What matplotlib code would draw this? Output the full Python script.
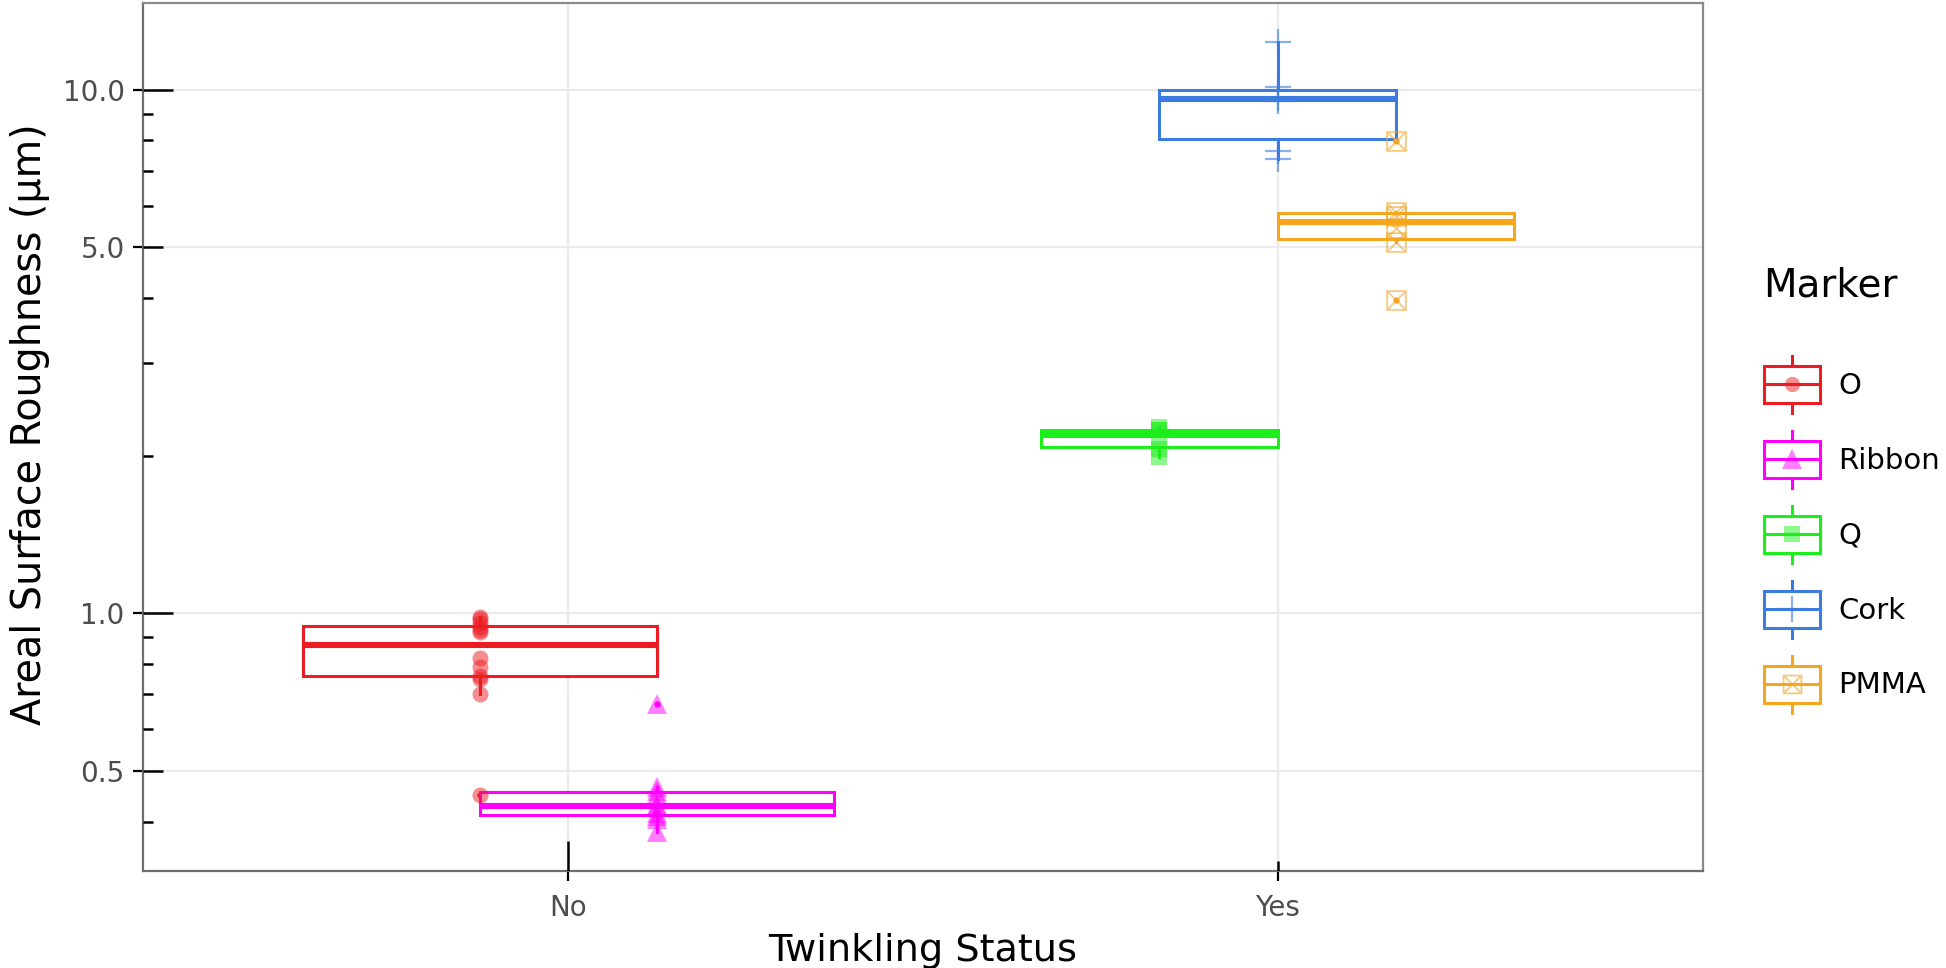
import numpy as np
import matplotlib
matplotlib.use("Agg")
import matplotlib.pyplot as plt
from matplotlib import cbook
from matplotlib.lines import Line2D
from matplotlib.patches import Rectangle
from matplotlib.path import Path
from matplotlib.legend_handler import HandlerBase
from matplotlib.ticker import NullLocator
import matplotlib.transforms as mtransforms

plt.rcParams['font.family'] = ['DejaVu Sans']

# ---------------- data ----------------
categories = ["No", "Yes"]
marker_names = ["O", "Ribbon", "Q", "Cork", "PMMA"]
marker_status = ["No", "No", "Yes", "Yes", "Yes"]

o_vals = [0.985, 0.975, 0.96, 0.94, 0.93, 0.92, 0.82, 0.79, 0.76, 0.75, 0.70, 0.45]
ribbon_vals = [0.67, 0.465, 0.458, 0.45, 0.43, 0.428, 0.415, 0.41, 0.405, 0.383]
q_vals = [2.27, 2.243, 2.24, 2.14, 2.06, 1.99]
cork_vals = [12.3, 10.1, 9.65, 9.5, 7.63, 7.36]
pmma_vals = [7.98, 5.83, 5.74, 5.45, 5.11, 3.96]

y_ticks = [0.5, 1.0, 5.0, 10.0]
y_tick_labels = ["0.5", "1.0", "5.0", "10.0"]

# ---------------- styles ----------------
colors = ["#EC1C24", "#FF00FF", "#1CEE1C", "#3A7CE0", "#F5A51E"]
sq_x = Path([(-1, -1), (1, -1), (1, 1), (-1, 1), (-1, -1),
             (-1, -1), (1, 1), (-1, 1), (1, -1)],
            [Path.MOVETO, Path.LINETO, Path.LINETO, Path.LINETO, Path.CLOSEPOLY,
             Path.MOVETO, Path.LINETO, Path.MOVETO, Path.LINETO])
point_styles = [
    dict(marker='o', ms=11.5, mew=0, filled=True, alpha=0.5),
    dict(marker='^', ms=15, mew=0, filled=True, alpha=0.5),
    dict(marker='s', ms=11.5, mew=0, filled=True, alpha=0.5),
    dict(marker='+', ms=19, mew=1.6, filled=False, alpha=0.6),
    dict(marker=sq_x, ms=13.5, mew=1.3, filled=False, alpha=0.6),
]
all_vals = [o_vals, ribbon_vals, q_vals, cork_vals, pmma_vals]

BOX_LW = 2.2
MED_LW = 4.4

fig = plt.figure(figsize=(19.46, 9.68), dpi=100)
ax_l, ax_b, ax_w, ax_h = 143 / 1946, 97 / 968, 1560 / 1946, 868 / 968
ax = fig.add_axes([ax_l, ax_b, ax_w, ax_h])
ax.set_yscale('log')

proxies = []
for ci, cat in enumerate(categories):
    idx = [i for i, s in enumerate(marker_status) if s == cat]
    n = len(idx)
    for j, i in enumerate(idx):
        pos = ci + 1 + (j - (n - 1) / 2) * 0.5 / n
        width = 1.0 / n
        vals = np.asarray(all_vals[i], dtype=float)
        st = cbook.boxplot_stats(np.log10(vals), whis=1.5)[0]
        for k in ['med', 'q1', 'q3', 'whislo', 'whishi', 'mean']:
            st[k] = 10 ** st[k]
        st['fliers'] = 10 ** np.asarray(st['fliers'])
        c = colors[i]
        ax.bxp([st], positions=[pos], widths=[width], showcaps=False, showmeans=False,
               patch_artist=True,
               boxprops=dict(facecolor='white', edgecolor=c, linewidth=BOX_LW),
               medianprops=dict(color=c, linewidth=MED_LW, solid_capstyle='butt'),
               whiskerprops=dict(color=c, linewidth=BOX_LW),
               flierprops=dict(marker='o', markersize=3.5, markerfacecolor=c,
                               markeredgecolor=c, linestyle='none'),
               zorder=3)
        ps = point_styles[i]
        ax.plot(np.full(len(vals), pos), vals, linestyle='none', marker=ps['marker'],
                ms=ps['ms'], mew=ps['mew'],
                mfc=c if ps['filled'] else 'none', mec=c, alpha=ps['alpha'], zorder=4)
        proxies.append(Line2D([], [], color=c, marker=ps['marker'], ms=ps['ms'] * 0.95,
                              mew=ps['mew'], mfc=c if ps['filled'] else 'none', mec=c,
                              alpha=ps['alpha'], linestyle='none', label=marker_names[i]))

ax.set_xlim(0.4, 2.6)
lv = np.log10(np.concatenate([np.asarray(v, float) for v in all_vals]))
lo, hi = lv.min(), lv.max()
r = hi - lo
ax.set_ylim(10 ** (lo - 0.05 * r), 10 ** (hi + 0.05 * r))

ax.set_xticks([1, 2], labels=categories)
ax.set_yticks(y_ticks, labels=y_tick_labels)
ax.yaxis.set_minor_locator(NullLocator())
ax.tick_params(axis='both', which='major', direction='out', length=7.2, width=1.6,
               color='black', labelsize=20, labelcolor='#4D4D4D', pad=6)
ax.tick_params(axis='x', pad=9)
ax.grid(True, which='major', color='#EBEBEB', linewidth=1.6, zorder=0)
ax.set_axisbelow(True)
for name, sp in ax.spines.items():
    sp.set_color('#6E6E6E' if name in ('left', 'bottom') else '#8A8A8A')
    sp.set_linewidth(1.6)

# inside log ticks (annotation_logticks style)
px_w = 1560.0
px_h = 868.0
tr_y = mtransforms.blended_transform_factory(ax.transAxes, ax.transData)
ymin, ymax = ax.get_ylim()
for d in [-1, 0, 1]:
    for k in range(1, 10):
        v = k * 10.0 ** d
        if ymin <= v <= ymax:
            L = 30 if k == 1 else (20 if k == 5 else 10)
            ax.plot([0, L / px_w], [v, v], color='black', lw=1.8, transform=tr_y,
                    zorder=6, solid_capstyle='butt')
tr_x = mtransforms.blended_transform_factory(ax.transData, ax.transAxes)
for xv, L in [(1, 30), (2, 10)]:
    ax.plot([xv, xv], [0, L / px_h], color='black', lw=1.8, transform=tr_x,
            zorder=6, solid_capstyle='butt')

ax.set_xlabel("Twinkling Status", fontsize=27.5, labelpad=8)
ax.set_ylabel("Areal Surface Roughness (\u03bcm)", fontsize=28.5, labelpad=9)
ax.yaxis.label.set_y(0.515)


class BoxKeyHandler(HandlerBase):
    def create_artists(self, legend, orig_handle, xdescent, ydescent, width, height,
                       fontsize, trans):
        c = orig_handle.get_color()
        x0, y0 = -xdescent, -ydescent
        bh = height * 0.78
        by = y0 + (height - bh) / 2
        rect = Rectangle((x0, by), width, bh, facecolor='white', edgecolor=c,
                         linewidth=BOX_LW, transform=trans)
        med = Line2D([x0, x0 + width], [y0 + height / 2] * 2, color=c, lw=BOX_LW,
                     transform=trans)
        cx = x0 + width / 2
        w1 = Line2D([cx, cx], [by + bh, by + bh + 0.22 * height], color=c, lw=BOX_LW,
                    transform=trans)
        w2 = Line2D([cx, cx], [by - 0.22 * height, by], color=c, lw=BOX_LW,
                    transform=trans)
        mk = Line2D([cx], [y0 + height / 2], linestyle='none',
                    marker=orig_handle.get_marker(), ms=orig_handle.get_markersize(),
                    mew=orig_handle.get_markeredgewidth(),
                    mfc=orig_handle.get_markerfacecolor(),
                    mec=orig_handle.get_markeredgecolor(),
                    alpha=orig_handle.get_alpha(), transform=trans)
        return [rect, med, w1, w2, mk]


leg = fig.legend(handles=proxies, labels=marker_names, title="Marker",
                 loc='center left', bbox_to_anchor=(1749 / 1946, 0.497),
                 frameon=False, fontsize=21, title_fontsize=28,
                 handler_map={Line2D: BoxKeyHandler()},
                 handlelength=1.92, handleheight=2.1, labelspacing=0.96,
                 handletextpad=0.65, borderpad=0, alignment='left')
leg._legend_box.sep = 41

fig.savefig("out.png", dpi=100)
